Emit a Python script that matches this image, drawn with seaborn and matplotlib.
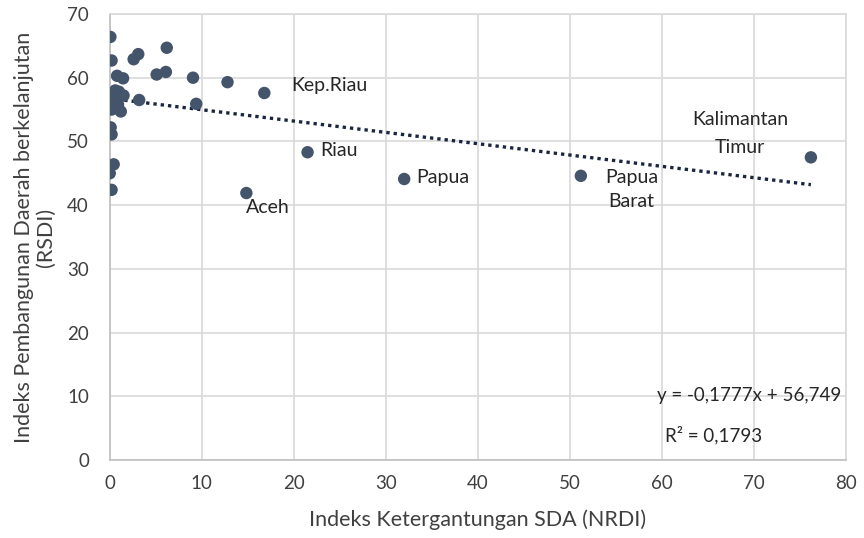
import matplotlib
matplotlib.use("Agg")
import matplotlib.pyplot as plt
import seaborn as sns
import numpy as np
import pandas as pd

nrdi = [0.07, 0.2, 0.8, 1.45, 2.6, 3.1, 6.2, 5.1, 6.1, 9.05, 12.8, 16.8, 9.4, 3.2,
        0.6, 1.5, 0.0, 0.2, 1.2, 0.3, 0.9, 0.1, 0.2, 0.43, 0.0, 0.2, 14.85, 21.5,
        32.0, 51.2, 76.2, 0.5, 1.0, 0.15]
rsdi = [66.4, 62.7, 60.3, 59.9, 62.9, 63.7, 64.7, 60.5, 60.9, 60.0, 59.3, 57.6, 55.9, 56.5,
        58.0, 57.2, 56.3, 55.0, 54.7, 57.0, 55.8, 52.2, 51.1, 46.4, 45.0, 42.4, 41.9, 48.3,
        44.1, 44.6, 47.5, 56.6, 57.8, 57.5]

slope = -0.1777
intercept = 56.749
eq_text = "y = -0,1777x + 56,749"
r2_text = "R² = 0,1793"

labels = ["Kep.Riau", "Riau", "Papua", "Papua", "Barat", "Kalimantan", "Timur", "Aceh"]
label_x = [19.7, 22.9, 33.3, 56.7, 56.7, 68.5, 68.5, 17.2]
label_y = [58.85, 48.5, 44.4, 44.3, 40.5, 53.4, 49.1, 39.7]
label_ha = ["left", "left", "left", "center", "center", "center", "center", "center"]

df = pd.DataFrame({"NRDI": nrdi, "RSDI": rsdi})

sns.set_theme(style="white")
plt.rcParams["font.family"] = ["Lato", "DejaVu Sans"]

fig = plt.figure(figsize=(8.64, 5.38), dpi=100)
ax = fig.add_axes([0.127, 0.145, 0.852, 0.829])

sns.scatterplot(data=df, x="NRDI", y="RSDI", ax=ax, color="#44546a", s=80,
                edgecolor="none", zorder=3)

xs = np.array([min(nrdi), max(nrdi)])
ax.plot(xs, slope * xs + intercept, linestyle=(0, (1, 1.2)), color="#1a2540",
        linewidth=2.4, zorder=2)

ax.set_xlim(0, 80)
ax.set_ylim(0, 70)
ax.set_xticks(range(0, 81, 10))
ax.set_yticks(range(0, 71, 10))
ax.grid(True, color="#d9d9d9", linewidth=1.2)
ax.set_axisbelow(True)
for sp in ax.spines.values():
    sp.set_color("#d9d9d9")
    sp.set_linewidth(1.2)
ax.spines["bottom"].set_color("#bfbfbf")
ax.spines["left"].set_color("#bfbfbf")

ax.tick_params(axis="both", labelsize=13.5, colors="#404040", length=0)
ax.tick_params(axis="x", pad=11)
ax.tick_params(axis="y", pad=15)
ax.set_xlabel("Indeks Ketergantungan SDA (NRDI)", fontsize=15.5, color="#404040", labelpad=12)
ax.set_ylabel("Indeks Pembangunan Daerah berkelanjutan\n(RSDI)", fontsize=15.5,
              color="#404040", labelpad=8, linespacing=1.1)

for t, x, y, ha in zip(labels, label_x, label_y, label_ha):
    ax.text(x, y, t, fontsize=14, color="#262626", ha=ha, va="center")

ax.text(79.5, 10.2, eq_text, fontsize=13.5, color="#262626", ha="right", va="center")
ax.text(60.3, 3.9, r2_text, fontsize=13.5, color="#262626", ha="left", va="center")

fig.savefig("out.png", dpi=100)
